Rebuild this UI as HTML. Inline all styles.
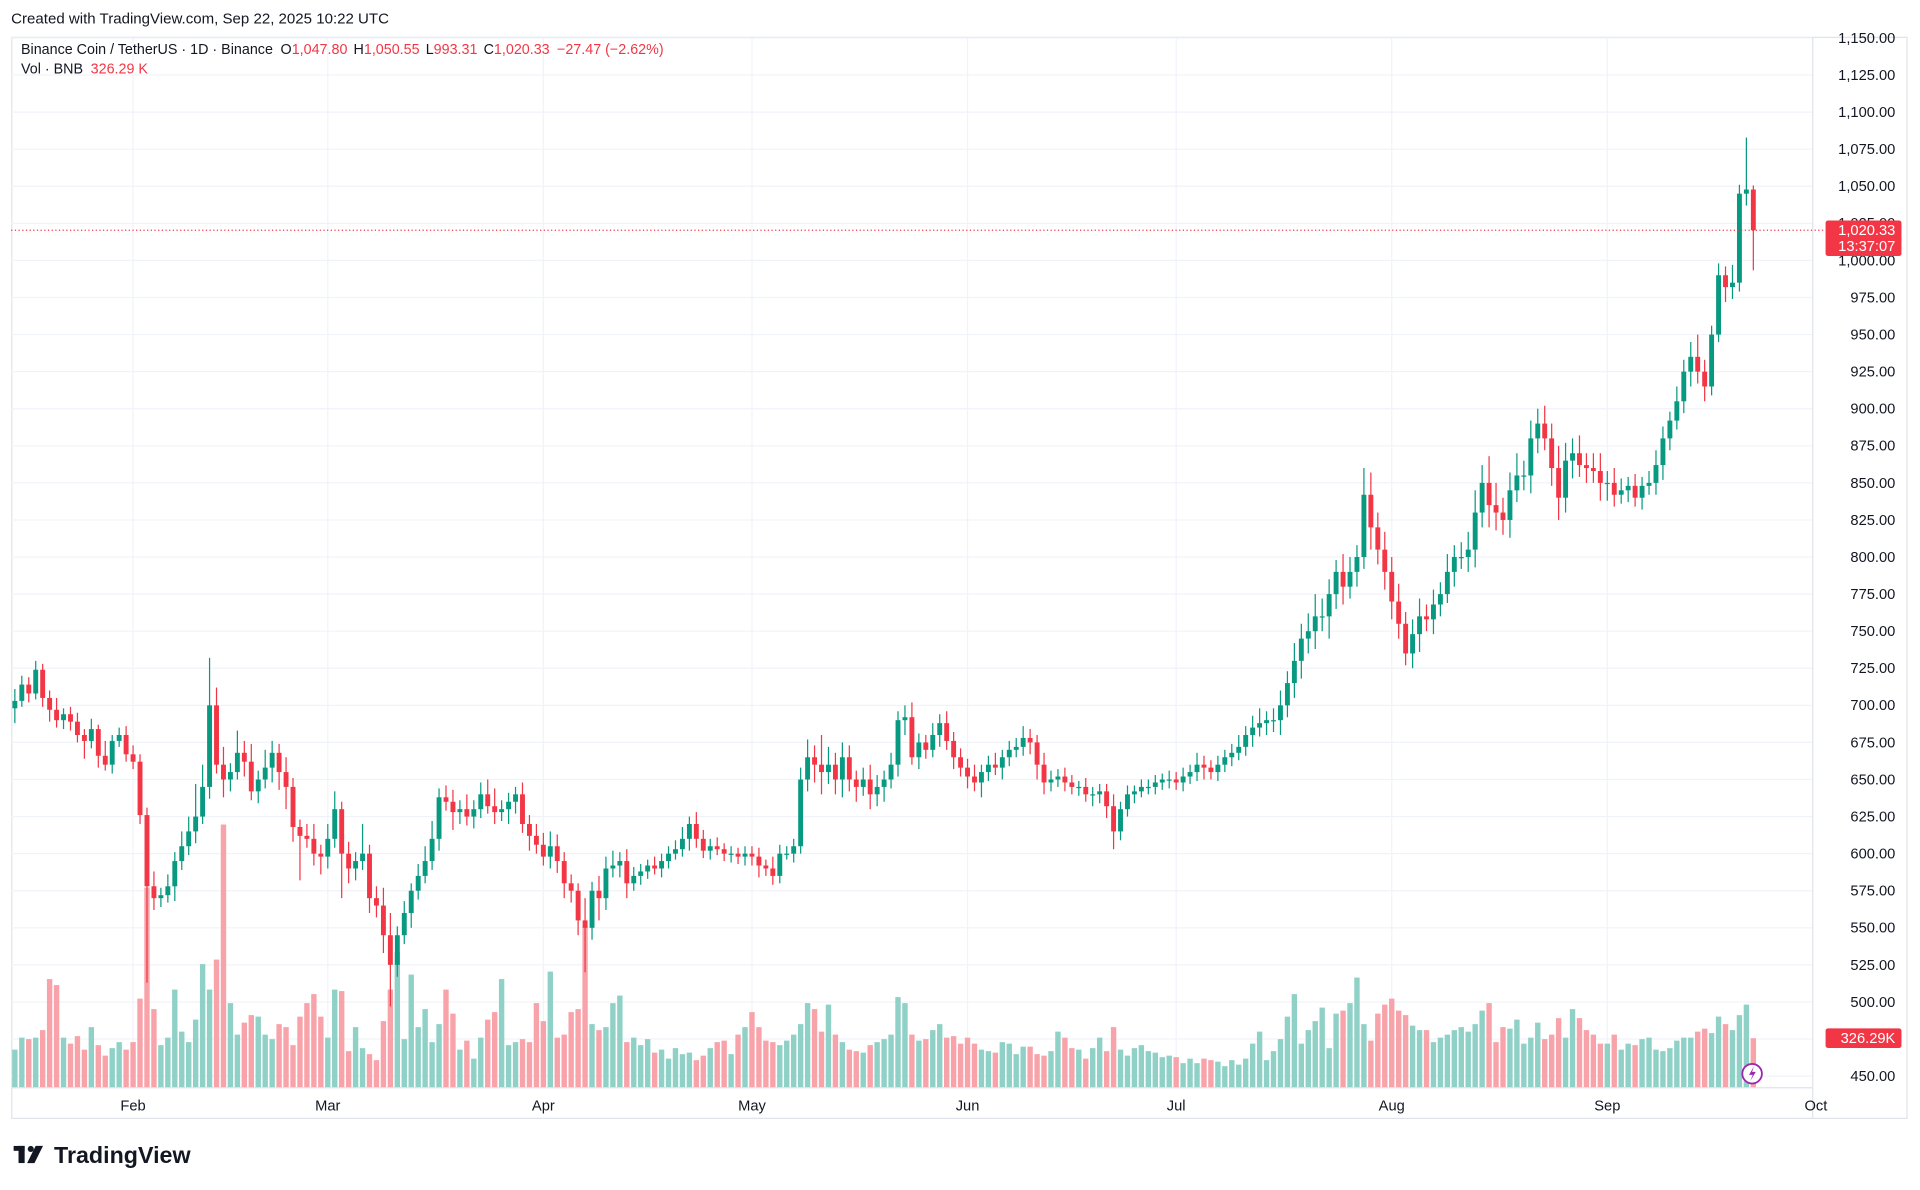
<!DOCTYPE html>
<html><head><meta charset="utf-8"><style>
html,body{margin:0;padding:0;background:#fff;width:1920px;height:1190px;overflow:hidden}
svg{display:block;font-family:"Liberation Sans",Arial,sans-serif}
</style></head><body>
<svg id="chart" width="1920" height="1190" viewBox="0 0 1568 972" xmlns="http://www.w3.org/2000/svg">
<text x="9" y="19" font-size="12.3" fill="#131722">Created with TradingView.com, Sep 22, 2025 10:22 UTC</text>
<rect x="9.5" y="30.5" width="1548" height="883" fill="none" stroke="#e0e3eb"/>
<line x1="1480.5" y1="30" x2="1480.5" y2="913" stroke="#e0e3eb"/>
<line x1="9" y1="888.5" x2="1480" y2="888.5" stroke="#e0e3eb"/>
<g id="grid"></g><g id="vol"></g><g id="candles"></g><g id="axes"></g>
<g font-size="11.7">
<text x="17" y="44" fill="#131722">Binance Coin / TetherUS · 1D · Binance <tspan dx="3">O</tspan><tspan fill="#f23645">1,047.80</tspan><tspan dx="5">H</tspan><tspan fill="#f23645">1,050.55</tspan><tspan dx="5">L</tspan><tspan fill="#f23645">993.31</tspan><tspan dx="5">C</tspan><tspan fill="#f23645">1,020.33</tspan><tspan dx="6" fill="#f23645">−27.47 (−2.62%)</tspan></text>
<text x="17" y="60" fill="#131722">Vol · BNB <tspan dx="3" fill="#f23645">326.29 K</tspan></text>
</g>
<g>
<rect x="11" y="936" width="9" height="4" fill="#131722"/><rect x="15" y="936" width="5" height="14" fill="#131722"/>
<circle cx="25" cy="938.5" r="2.5" fill="#131722"/><polygon points="29,936 35,936 28,950 22,950" fill="#131722"/>
<text x="44" y="950" font-size="19" font-weight="bold" fill="#131722">TradingView</text>
</g>
</svg>
<script>
const closes=[703,714,708,724,705,697,690,694,689,680,676,684,666,660,676,680,667,
662,626,578,570,572,578,595,605,615,625,645,700,660,650,655,668,662,642,650,658,668,655,645,618,612,610,600,598,
610,630,600,590,595,600,570,565,545,525,545,560,575,585,595,610,638,635,628,630,625,630,640,632,628,630,635,640,620,612,606,
598,605,595,580,575,555,550,575,570,590,592,595,580,585,588,592,590,595,600,603,610,620,610,602,605,603,600,600,598,600,
598,592,590,585,600,600,605,650,665,660,655,660,650,665,650,645,650,640,645,650,660,690,692,665,675,670,680,688,676,665,658,
652,648,655,660,658,665,670,672,678,675,660,648,650,652,648,645,645,640,640,642,632,615,630,640,642,645,645,648,650,650,
648,652,655,660,658,655,660,665,668,672,680,685,688,690,690,700,715,730,745,750,760,760,775,790,780,790,800,842,820,805,790,
770,755,735,748,760,758,768,775,790,800,800,805,830,850,835,830,825,845,855,855,880,890,880,860,840,865,870,862,860,858,850,
850,842,845,848,840,848,850,862,880,892,905,925,935,925,915,950,990,982,985,1045,1047.8,1020.33];
const wickUp=[8,6,5,6,4,5,8,4,5,6,4,7,3,10,4,5,6,
6,5,5,10,5,8,6,10,10,22,15,32,12,12,6,15,8,12,6,12,8,6,10,6,5,8,10,6,
10,12,5,8,6,20,6,8,12,15,6,8,5,8,10,12,6,8,8,6,10,6,8,10,12,6,6,5,8,6,8,
8,10,8,6,6,5,15,6,10,8,10,6,8,6,5,4,6,5,5,6,8,5,8,6,5,6,4,5,4,5,
5,6,4,8,6,5,5,8,12,8,20,12,8,10,8,6,8,10,8,6,8,6,8,10,6,5,8,6,8,6,6,
6,8,5,6,8,5,6,6,8,6,5,8,6,5,6,5,4,6,5,5,5,8,5,6,4,5,5,5,4,6,
5,6,5,8,6,5,6,5,6,8,6,8,10,6,8,10,8,12,10,12,15,12,10,8,12,10,8,18,15,10,12,
10,12,8,10,12,8,10,8,12,8,10,12,15,12,18,15,10,12,15,10,12,10,12,10,15,12,10,12,8,10,12,
8,10,8,6,8,6,8,10,8,6,10,8,10,15,8,6,8,6,12,6,35,2.75];
const wickDn=[10,4,6,4,6,8,5,6,6,5,12,5,8,4,6,4,5,
5,6,65,8,6,5,10,6,6,8,5,8,6,12,8,5,10,6,8,6,10,12,15,10,30,6,8,12,
8,6,30,10,8,6,10,8,12,28,8,6,10,6,5,6,8,6,12,8,6,8,6,5,8,6,10,8,6,10,6,
6,8,8,10,8,10,30,8,15,8,6,8,10,5,6,5,4,6,5,4,5,8,6,5,6,4,5,6,5,6,
6,8,5,6,5,4,6,5,8,12,15,8,10,12,8,10,6,10,8,10,6,8,10,5,8,6,5,8,6,8,6,
8,6,10,6,5,8,6,5,6,8,10,8,6,5,6,5,6,5,8,6,8,12,6,5,6,4,5,5,5,6,
5,6,5,6,8,5,6,5,6,5,6,8,6,8,8,10,8,10,12,10,12,10,15,10,12,8,10,8,15,10,12,
12,10,8,10,12,8,10,8,6,10,8,10,12,10,15,12,10,12,8,10,12,10,8,12,15,10,12,8,10,8,12,
12,8,6,8,6,8,6,8,10,8,6,8,10,8,10,6,5,10,8,6,8,27.02];
const volumes=[250,330,320,330,380,720,680,330,290,340,250,400,280,210,260,300,250,
300,590,1330,520,280,330,650,370,300,450,820,650,850,1750,560,350,430,480,470,350,320,420,400,280,470,560,620,470,
330,650,640,240,400,260,220,180,440,650,900,320,750,400,520,300,420,650,490,250,310,190,330,450,500,720,280,300,320,300,560,
440,770,330,350,500,520,1070,420,380,400,560,610,300,330,280,320,230,250,190,260,220,230,180,210,260,300,310,220,350,400,
500,400,310,300,280,310,350,420,560,520,370,550,350,300,250,240,230,280,300,320,350,600,560,350,310,320,380,420,330,340,290,
330,290,250,240,230,300,290,220,270,270,220,210,240,370,330,260,250,190,260,330,240,400,250,210,260,280,240,230,200,210,
200,160,190,160,190,180,170,140,180,150,190,290,370,180,240,320,470,620,290,380,440,530,260,490,510,560,730,420,310,490,550,
590,510,480,410,380,380,300,330,350,380,400,370,420,510,560,300,400,390,450,290,330,430,320,350,460,330,520,460,380,350,290,
290,350,250,290,280,320,330,250,240,260,310,330,330,370,390,360,470,420,380,480,550,326.29];
const firstOpen=698;
const monthLabels=["Feb","Mar","Apr","May","Jun","Jul","Aug","Sep","Oct"];
const monthDayIndex=[17,45,76,106,137,167,198,229,259];
const priceTicks=[450,475,500,525,550,575,600,625,650,675,700,725,750,775,800,825,850,875,900,925,950,975,1000,1025,1050,1075,1100,1125,1150];
const lastPrice=1020.33;
const NS="http://www.w3.org/2000/svg";
const X0=12,DX=5.68,YT=31,PMAX=1150,KY=1.2114,VBASE=888,KV=0.1226;
const xs=i=>X0+i*DX, ys=p=>YT+(PMAX-p)*KY, vh=v=>v*KV;
const G='#089981',R='#f23645',GV='#8fd1c6',RV='#f8a3aa';
function mk(tag,attrs,parent){const e=document.createElementNS(NS,tag);for(const k in attrs)e.setAttribute(k,attrs[k]);parent.appendChild(e);return e;}
const grid=document.getElementById('grid'),vol=document.getElementById('vol'),cg=document.getElementById('candles'),ax=document.getElementById('axes');
priceTicks.forEach(p=>{
 const l=mk('line',{x1:9,x2:1480,y1:ys(p),y2:ys(p),stroke:'#f0f3fa','stroke-width':1},grid);
 
 
 const t=mk('text',{x:1548,y:ys(p)+4,'font-size':12,'text-anchor':'end',fill:'#131722'},ax);
 t.textContent=p.toLocaleString('en-US',{minimumFractionDigits:2,maximumFractionDigits:2});
 
 
});
monthLabels.forEach((m,k)=>{
 const x=xs(monthDayIndex[k]);
 if(x<1480){const l=mk('line',{x1:x,x2:x,y1:31,y2:888,stroke:'#f0f3fa'},grid);
 
 }
 const t=mk('text',{x:x,y:907,'font-size':12,'text-anchor':'middle',fill:'#131722'},ax);
 t.textContent=m;
 
 
});
closes.forEach((c,i)=>{
 const o=i===0?firstOpen:closes[i-1];
 const up=c>=o, col=up?G:R, x=xs(i);
 const hi=Math.max(o,c)+wickUp[i], lo=Math.min(o,c)-wickDn[i];
 const h=vh(volumes[i]);
 const vb=mk('rect',{x:x-2.2,y:VBASE-h,width:4.4,height:h,fill:up?GV:RV},vol);
 
 
 const w=mk('line',{x1:x,x2:x,y1:ys(hi),y2:ys(lo),stroke:col,'stroke-width':1},cg);
 
 
 const top=ys(Math.max(o,c)),bh=Math.max(1,ys(Math.min(o,c))-top);
 const b=mk('rect',{x:x-2,y:top,width:4,height:bh,fill:col},cg);
 
 
});
const yl=ys(lastPrice);
const dl=mk('line',{x1:9,x2:1490,y1:yl,y2:yl,stroke:R,'stroke-width':1,'stroke-dasharray':'1,2'},ax);


const bx=mk('rect',{x:1491,y:yl-8,width:62,height:29,rx:2,fill:R},ax);


const t1=mk('text',{x:1548,y:yl+4,'font-size':12,'text-anchor':'end',fill:'#fff'},ax);t1.textContent='1,020.33';


const t2=mk('text',{x:1548,y:yl+17,'font-size':12,'text-anchor':'end',fill:'#fff'},ax);t2.textContent='13:37:07';


const vy=VBASE-vh(volumes[volumes.length-1]);
const vbx=mk('rect',{x:1491,y:vy-8,width:62,height:16,rx:2,fill:R},ax);


const vt=mk('text',{x:1548,y:vy+4,'font-size':12,'text-anchor':'end',fill:'#fff'},ax);vt.textContent='326.29K';


const ic=mk('circle',{cx:1431,cy:877,r:8,fill:'#fff',stroke:'#9c27b0','stroke-width':1.5},ax);


const bolt=mk('path',{d:'M1432.5 871 L1428.5 878 L1431.5 878 L1429.5 883 L1434 875.5 L1431 875.5 Z',fill:'#9c27b0'},ax);


</script>
</body></html>
